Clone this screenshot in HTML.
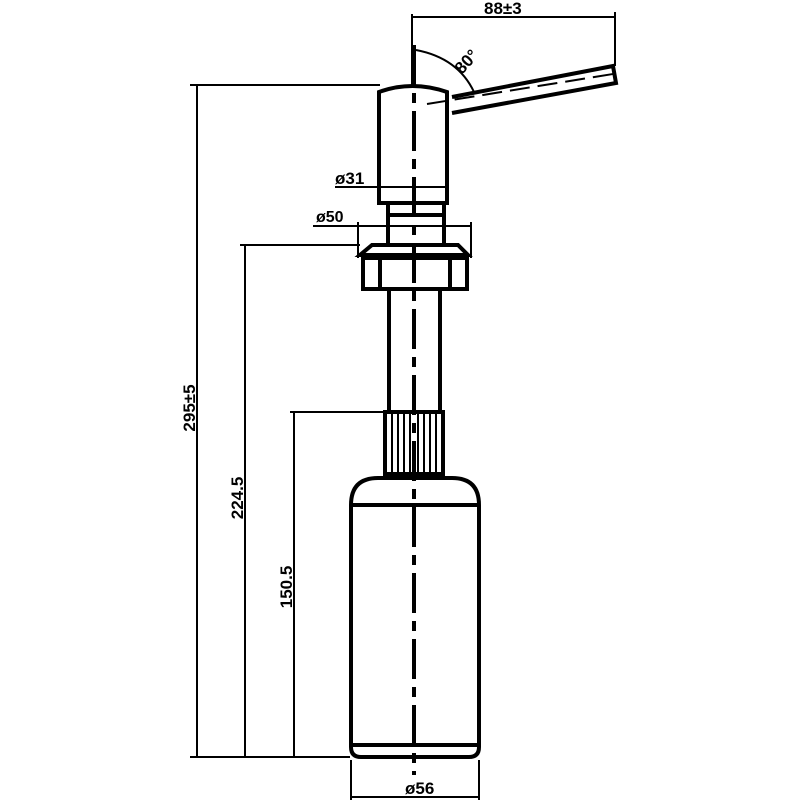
<!DOCTYPE html>
<html><head><style>html,body{margin:0;padding:0;background:#fff}</style></head>
<body>
<svg width="800" height="800" viewBox="0 0 800 800" xmlns="http://www.w3.org/2000/svg" font-family="Liberation Sans, sans-serif">
<g stroke="#000" fill="none">
<g stroke-width="2">
<line x1="197" y1="85" x2="197" y2="757"/>
<line x1="245" y1="245" x2="245" y2="757"/>
<line x1="294" y1="412" x2="294" y2="757"/>
<line x1="190" y1="85" x2="380" y2="85"/>
<line x1="240" y1="245" x2="360" y2="245"/>
<line x1="290" y1="412" x2="386" y2="412"/>
<line x1="190" y1="757" x2="350" y2="757"/>
<line x1="412" y1="14" x2="412" y2="85"/>
<line x1="615" y1="12" x2="615" y2="66"/>
<line x1="412" y1="17" x2="615" y2="17"/>
<line x1="335" y1="187" x2="447" y2="187"/>
<line x1="313" y1="226" x2="470" y2="226"/>
<line x1="358" y1="222" x2="358" y2="258"/>
<line x1="471" y1="222" x2="471" y2="258"/>
<line x1="351" y1="760" x2="351" y2="800"/>
<line x1="479" y1="760" x2="479" y2="800"/>
<line x1="351" y1="797" x2="479" y2="797"/>
<path d="M416 50 Q458 58 474 92"/>
</g>
<g stroke-width="4">
<path d="M379 203 L379 92 Q412 80 447 92 L447 203 Z"/>
<path d="M452 97 L613 66 L616 83 L452 113"/>
<line x1="388" y1="203" x2="388" y2="245"/>
<line x1="444" y1="203" x2="444" y2="245"/>
<line x1="388" y1="215" x2="444" y2="215"/>
<path d="M372 245 L458 245 L468 255 L360 255 Z"/>
<rect x="363" y="258" width="104" height="31"/>
<line x1="380" y1="258" x2="380" y2="289"/>
<line x1="450" y1="258" x2="450" y2="289"/>
<line x1="389" y1="289" x2="389" y2="410"/>
<line x1="440" y1="289" x2="440" y2="410"/>
<rect x="385" y="412" width="58" height="62"/>
<path d="M351 505 Q351 478 378 478 L452 478 Q479 478 479 505 L479 747 Q479 757 469 757 L361 757 Q351 757 351 747 Z"/>
<line x1="351" y1="505" x2="479" y2="505"/>
<line x1="351" y1="745" x2="479" y2="745"/>
</g>
<g stroke-width="2">
<line x1="392" y1="414" x2="392" y2="472"/><line x1="398" y1="414" x2="398" y2="472"/>
<line x1="404" y1="414" x2="404" y2="472"/><line x1="410" y1="414" x2="410" y2="472"/>
<line x1="418" y1="414" x2="418" y2="472"/><line x1="424" y1="414" x2="424" y2="472"/>
<line x1="430" y1="414" x2="430" y2="472"/><line x1="436" y1="414" x2="436" y2="472"/>
<line x1="427" y1="104" x2="613" y2="74" stroke-dasharray="20 8"/>
</g>
<line x1="414" y1="45" x2="414" y2="775" stroke-width="4" stroke-dasharray="40 8 10 8"/>
</g>
<g font-size="17" font-weight="bold" fill="#000">
<text x="484" y="14">88±3</text>
<text x="335" y="184">ø31</text>
<text x="316" y="222" font-size="16">ø50</text>
<text x="405" y="794">ø56</text>
<text transform="translate(462,75) rotate(-48)">80°</text>
<text transform="translate(195,408) rotate(-90)" text-anchor="middle">295±5</text>
<text transform="translate(243,498) rotate(-90)" text-anchor="middle">224.5</text>
<text transform="translate(292,587) rotate(-90)" text-anchor="middle">150.5</text>
</g>
</svg>
</body></html>
